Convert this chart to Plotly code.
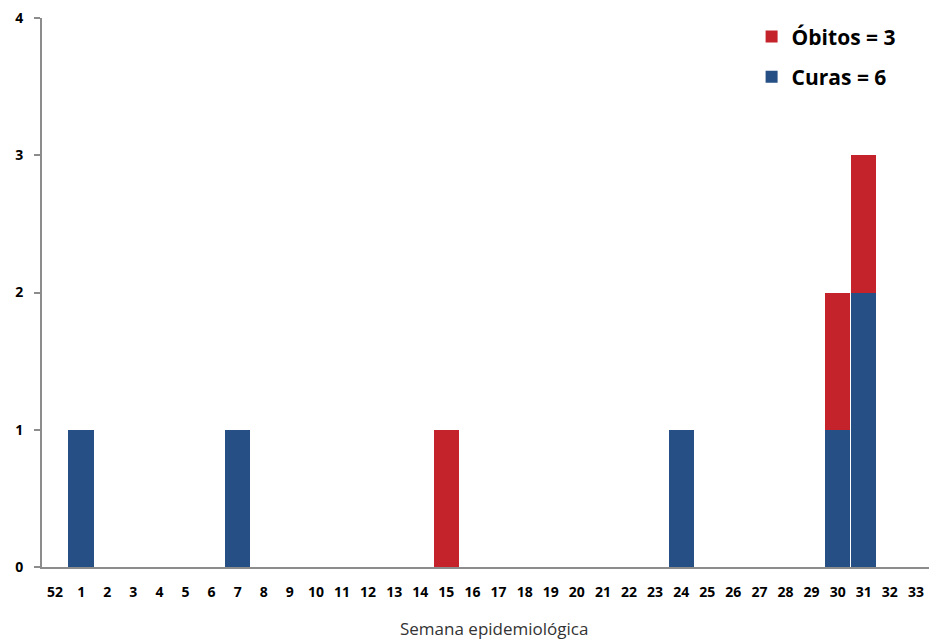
import plotly.graph_objects as go

weeks = ["52"] + [str(i) for i in range(1, 34)]
curas = [0, 1, 0, 0, 0, 0, 0, 1, 0, 0, 0, 0, 0, 0, 0, 0, 0, 0, 0, 0, 0, 0, 0, 0, 1, 0, 0, 0, 0, 0, 1, 2, 0, 0]
obitos = [0, 0, 0, 0, 0, 0, 0, 0, 0, 0, 0, 0, 0, 0, 0, 1, 0, 0, 0, 0, 0, 0, 0, 0, 0, 0, 0, 0, 0, 0, 1, 1, 0, 0]
y_ticks = [0, 1, 2, 3, 4]

fig = go.Figure()
fig.add_trace(go.Bar(x=weeks, y=curas, name="Curas = 6", marker=dict(color="#264F86", line=dict(width=0)),
                     legendgroup="c", legendrank=2))
fig.add_trace(go.Bar(x=weeks, y=obitos, name="Óbitos = 3", marker=dict(color="#C4232B", line=dict(width=0)),
                     legendgroup="o", legendrank=1))

fig.update_layout(
    width=929, height=641,
    barmode="stack", bargap=0.03,
    plot_bgcolor="white", paper_bgcolor="white",
    margin=dict(l=42, r=0, t=18, b=74),
    font=dict(family="Open Sans", color="black"),
    showlegend=True,
    legend=dict(x=0.80, y=1.003, xanchor="left", yanchor="top",
                traceorder="grouped", tracegroupgap=10,
                font=dict(size=21, family="Open Sans", weight="bold"),
                bgcolor="rgba(0,0,0,0)", itemwidth=30),
    xaxis=dict(type="category", categoryorder="array", categoryarray=weeks,
               showline=True, linecolor="#8c8c8c", linewidth=2, showgrid=False,
               ticks="", ticklabelstandoff=11,
               tickfont=dict(size=14, family="Open Sans", weight="bold"),
               range=[-0.5, len(weeks) - 0.5]),
    yaxis=dict(range=[0, 4], tickvals=y_ticks, showline=True, linecolor="#8c8c8c", linewidth=2,
               showgrid=False, zeroline=False, ticks="outside", ticklen=6, tickcolor="#8c8c8c",
               tickwidth=2, ticklabelstandoff=8, ticklabeloverflow="allow",
               tickfont=dict(size=14, family="Open Sans", weight="bold")),
    annotations=[dict(text="Semana epidemiológica", xref="paper", yref="paper",
                      x=0.51, y=0, yshift=-61, xanchor="center", yanchor="middle",
                      showarrow=False, font=dict(size=17, family="Open Sans", color="#333"))],
)

fig.write_html("out.html", config={"displayModeBar": False},
               post_script="document.body.style.margin='0';document.body.style.overflow='hidden';")
